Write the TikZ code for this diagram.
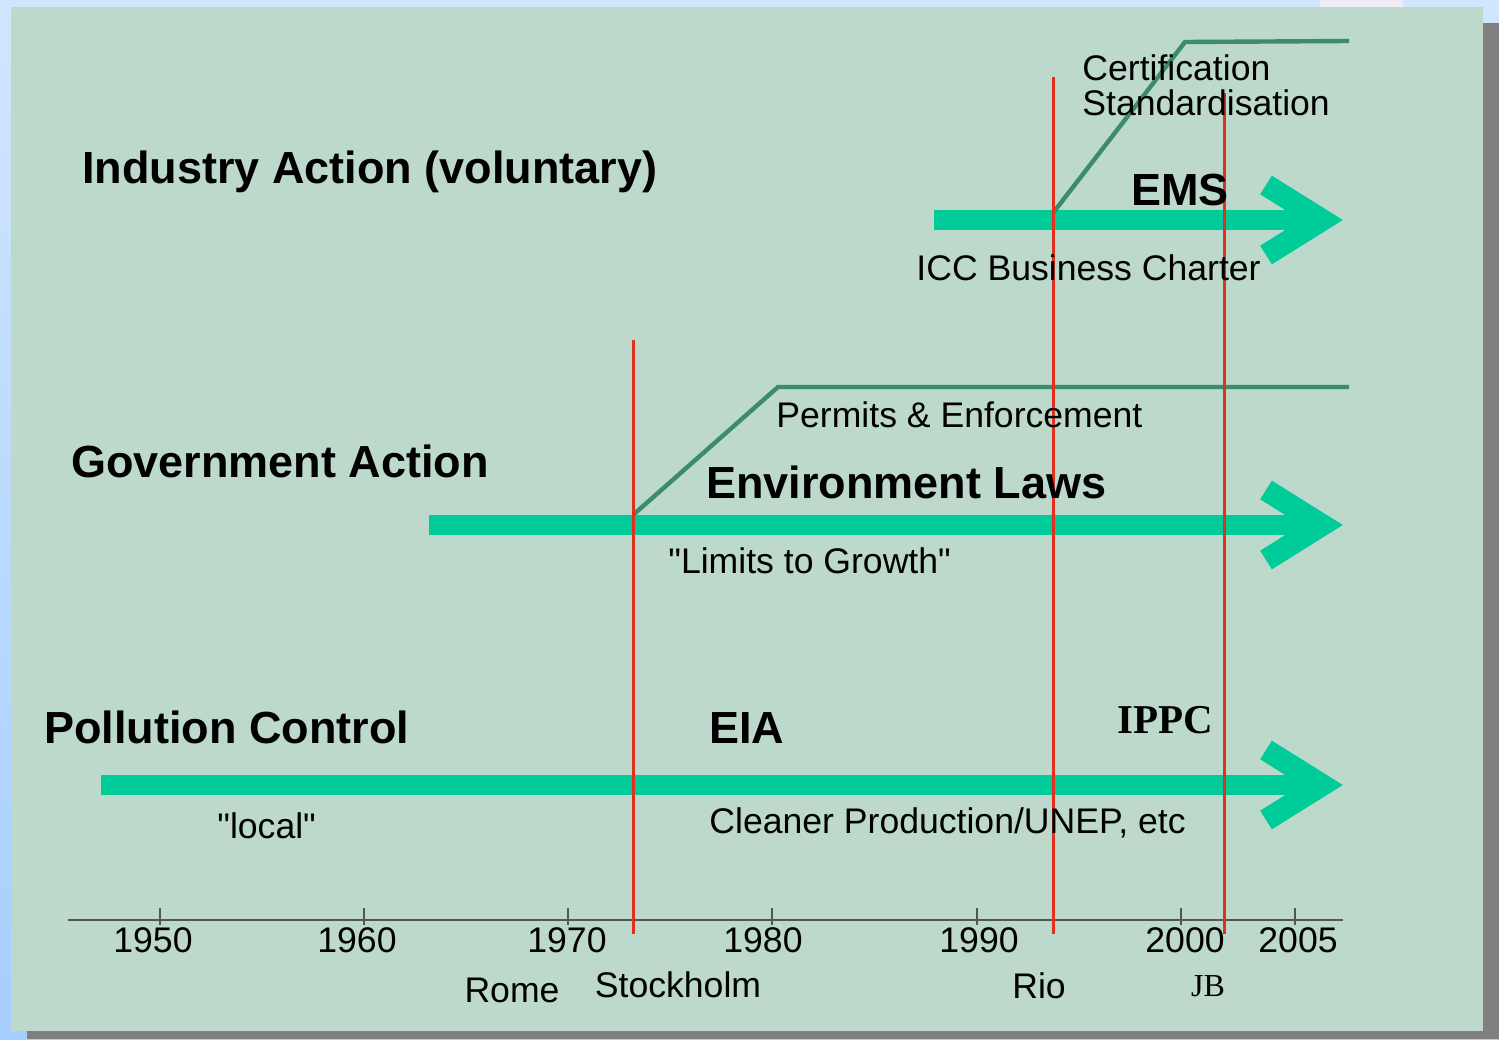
\documentclass[tikz,border=0pt]{standalone}
\usepackage{fontspec}
\setmainfont{Liberation Sans}[Ligatures=TeXOff]
\newfontfamily\timesfont{Liberation Serif}
\definecolor{outerblue}{HTML}{D0E6FF}
\definecolor{outerblue2}{HTML}{A6CEFF}
\definecolor{shadowgray}{HTML}{808080}
\definecolor{panelgreen}{HTML}{BDD9CB}
\definecolor{bargreen}{HTML}{00CC99}
\definecolor{trendgreen}{HTML}{3D8C69}
\definecolor{eventred}{HTML}{E0301E}
\definecolor{axisgray}{HTML}{555555}
\definecolor{lavender}{HTML}{EEEAF6}
\begin{document}
\begin{tikzpicture}[x=0.5pt, y=-0.5pt, line join=miter,
   bar_style/.style={draw=bargreen, line width=10pt},
   head_bar_style/.style={draw=bargreen, line width=11pt},
   trend_style/.style={draw=trendgreen, line width=2.2pt},
   event_style/.style={draw=eventred, line width=1.5pt},
   axis_style/.style={draw=axisgray, line width=0.6pt},
   head_style/.style={font=\fontsize{22.5}{26}\selectfont\bfseries, inner sep=0pt, anchor=base west},
   note_style/.style={font=\fontsize{17.8}{21}\selectfont, inner sep=0pt, anchor=base west},
   year_style/.style={font=\fontsize{17.8}{21}\selectfont, inner sep=0pt, anchor=base}]
	\useasboundingbox (0,0) rectangle (1499,1039);
	% slide background
	\shade[top color=outerblue, bottom color=outerblue2] (0,0) rectangle (1499,1039);
	\fill[lavender] (1320,0) rectangle (1403,7);
	\fill[shadowgray] (27,23) rectangle (1499,1039);
	\fill[panelgreen] (11,7) rectangle (1483,1031);

	% time axis
	\coordinate (axis_start) at (68,920);
	\coordinate (axis_end) at (1343,920);
	\draw [axis_style] (axis_start) -- (axis_end);
	\foreach \name/\x/\lx in {1950/160/153, 1960/364/357, 1970/568/567, 1980/772/763,
		1990/977/979, 2000/1181/1185, 2005/1295/1298} {
	  \draw [axis_style] (\x,908) -- (\x,925);
	  \node [year_style] (y\name) at (\lx,952) {\name};
	}

	% the three streams
	\foreach \row/\from/\y in {ind/934/220, gov/429/525, pol/101/785} {
	  \coordinate (\row_start) at (\from,\y);
	  \coordinate (\row_tip) at (1322,\y);
	  \coordinate (\row_up) at (1266,\y-35);
	  \coordinate (\row_down) at (1266,\y+35);
	  \draw [bar_style] (\row_start) -- (\row_tip);
	  \draw [head_bar_style] (\row_up) -- (\row_tip) -- (\row_down);
	}

	% trends
	\coordinate (gov_rise) at (633,515);
	\coordinate (gov_kink) at (778,387);
	\coordinate (gov_end) at (1349,387);
	\coordinate (ind_rise) at (1053,213);
	\coordinate (ind_kink) at (1185,42);
	\coordinate (ind_end) at (1349,41);
	\draw [trend_style] (gov_rise) -- (gov_kink) -- (gov_end);
	\draw [trend_style] (ind_rise) -- (ind_kink) -- (ind_end);

	% events
	\coordinate (stock_top) at (633,340);
	\coordinate (stock_bot) at (633,934);
	\coordinate (rio_top) at (1053,77);
	\coordinate (rio_bot) at (1053,934);
	\coordinate (jb_top) at (1224,93);
	\coordinate (jb_bot) at (1224,934);
	\draw [event_style] (stock_top) -- (stock_bot);
	\draw [event_style] (rio_top) -- (rio_bot);
	\draw [event_style] (jb_top) -- (jb_bot);

	\node [year_style] (rome) at (512,1002) {Rome};
	\node [year_style] (stockholm) at (678,997) {Stockholm};
	\node [year_style] (rio) at (1039,998) {Rio};
	\node [year_style, font=\timesfont\fontsize{16}{19}\selectfont] (jb) at (1208,996) {JB};

	% labels
	\node [head_style] (industry) at (82,183) {Industry Action (voluntary)};
	\node [head_style] (government) at (71,477) {Government Action};
	\node [head_style] (pollution) at (44,743) {Pollution Control};
	\node [head_style] (ems) at (1131,205) {EMS};
	\node [head_style] (laws) at (706,498) {Environment Laws};
	\node [head_style] (eia) at (709,743) {EIA};
	\node [head_style, font=\timesfont\fontsize{20.5}{24}\selectfont\bfseries] (ippc) at (1117,733) {IPPC};

	\node [note_style] (cert) at (1082,80) {Certification};
	\node [note_style] (std) at (1082,115) {Standardisation};
	\node [note_style] (icc) at (916,280) {ICC Business Charter};
	\node [note_style] (permits) at (776,427) {Permits \& Enforcement};
	\node [note_style] (limits) at (668,573) {"Limits to Growth"};
	\node [note_style] (local) at (217,838) {"local"};
	\node [note_style] (cleaner) at (709,833) {Cleaner Production/UNEP, etc};

	\end{tikzpicture}
\end{document}
